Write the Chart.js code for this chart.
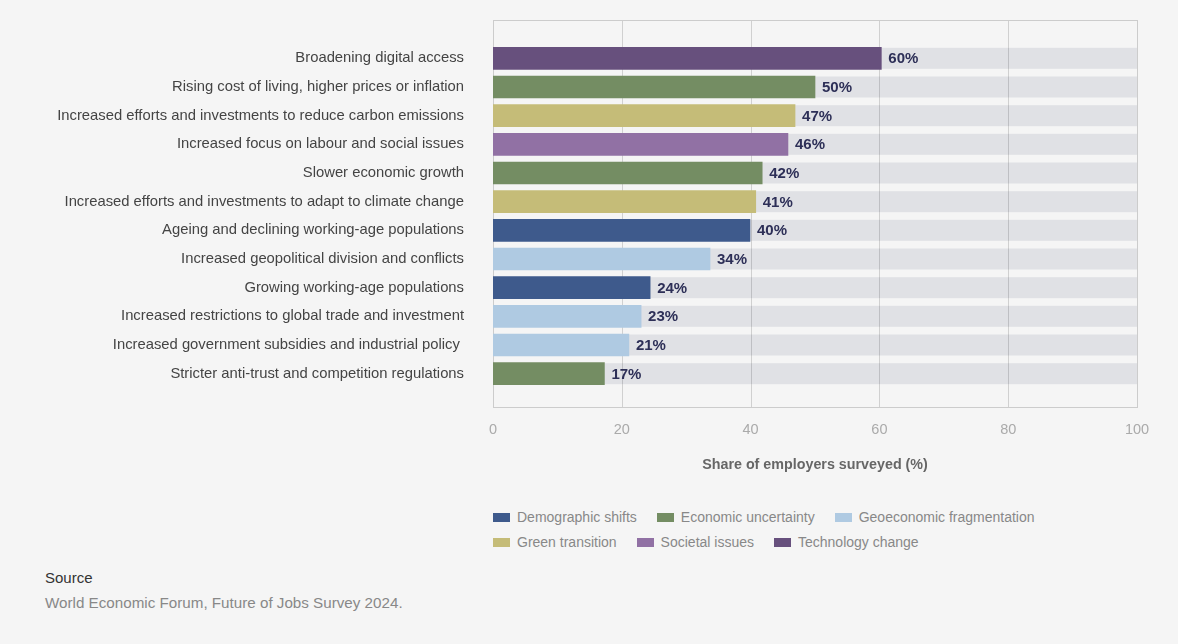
<!DOCTYPE html>
<html>
<head>
<meta charset="utf-8">
<script src="https://cdn.jsdelivr.net/npm/chart.js@4.4.1/dist/chart.umd.min.js"></script>
<style>
  html, body { margin: 0; padding: 0; background: #f5f5f5; }
  body { width: 1178px; height: 644px; position: relative; overflow: hidden; font-family: "Liberation Sans", Arial, sans-serif; }
  #wrap { position: absolute; left: 0; top: 0; width: 1178px; height: 490px; }
  #legend { position: absolute; left: 493px; top: 509px; width: 660px; font-size: 14px; color: #888; }
  .row { height: 25px; white-space: nowrap; }
  .item { display: inline-block; margin-right: 20px; }
  .sw { display: inline-block; width: 17px; height: 9px; margin-right: 7px; vertical-align: 0px; }
  #src { position: absolute; left: 45px; top: 569px; font-size: 15px; }
  #src .h { color: #333; margin-bottom: 8px; }
  #src .t { color: #888; font-size: 15.2px; }
</style>
</head>
<body>
<div id="wrap"><canvas id="myChart"></canvas></div>
<div id="legend"></div>
<div id="src"><div class="h">Source</div><div class="t">World Economic Forum, Future of Jobs Survey 2024.</div></div>
<script>
// categories, top to bottom
const categories = [
  'Broadening digital access',
  'Rising cost of living, higher prices or inflation',
  'Increased efforts and investments to reduce carbon emissions',
  'Increased focus on labour and social issues',
  'Slower economic growth',
  'Increased efforts and investments to adapt to climate change',
  'Ageing and declining working-age populations',
  'Increased geopolitical division and conflicts',
  'Growing working-age populations',
  'Increased restrictions to global trade and investment',
  'Increased government subsidies and industrial policy ',
  'Stricter anti-trust and competition regulations'
];
// share of employers (%)
const shares = [60.3, 50.0, 46.9, 45.8, 41.8, 40.8, 39.9, 33.7, 24.4, 23.0, 21.1, 17.3];
// group of each category
const groupOf = [
  'Technology change', 'Economic uncertainty', 'Green transition', 'Societal issues',
  'Economic uncertainty', 'Green transition', 'Demographic shifts', 'Geoeconomic fragmentation',
  'Demographic shifts', 'Geoeconomic fragmentation', 'Geoeconomic fragmentation', 'Economic uncertainty'
];
// legend order
const groups = ['Demographic shifts', 'Economic uncertainty', 'Geoeconomic fragmentation',
  'Green transition', 'Societal issues', 'Technology change'];
const groupColors = ['#3e5a8c', '#748d63', '#afcae2', '#c5bc78', '#9171a4', '#67507d'];
const xTicks = [0, 20, 40, 60, 80, 100];

const datasets = groups.map((g, gi) => ({
  label: g,
  data: shares.map((v, i) => groupOf[i] === g ? v : null),
  backgroundColor: groupColors[gi],
  barThickness: 22,
  grouped: false
}));

// gray track bars + grid + frame, drawn under the coloured bars
const backdrop = {
  id: 'backdrop',
  beforeDatasetsDraw(chart) {
    const { ctx, chartArea, scales: { x, y } } = chart;
    const top = chartArea.top - 24, bottom = chartArea.bottom + 19;
    ctx.save();
    ctx.fillStyle = '#e0e1e5';
    categories.forEach((c, i) => {
      const yc = y.getPixelForValue(i);
      ctx.fillRect(x.getPixelForValue(0), yc - 10.5, x.getPixelForValue(100) - x.getPixelForValue(0), 21);
    });
    ctx.strokeStyle = 'rgba(0,0,0,0.15)';
    ctx.lineWidth = 1;
    xTicks.forEach(t => {
      const px = Math.round(x.getPixelForValue(t)) + 0.5;
      ctx.beginPath();
      ctx.moveTo(px, top);
      ctx.lineTo(px, bottom);
      ctx.stroke();
    });
    ctx.strokeStyle = '#cccccc';
    ctx.strokeRect(Math.round(x.getPixelForValue(0)) + 0.5, top + 0.5,
      Math.round(x.getPixelForValue(100) - x.getPixelForValue(0)), bottom - top);
    ctx.restore();
  }
};

// percentage labels at bar ends
const valueLabels = {
  id: 'valueLabels',
  afterDatasetsDraw(chart) {
    const { ctx } = chart;
    ctx.save();
    ctx.font = 'bold 15px "Liberation Sans", Arial, sans-serif';
    ctx.fillStyle = '#2d2f57';
    ctx.textBaseline = 'middle';
    chart.data.datasets.forEach((ds, di) => {
      chart.getDatasetMeta(di).data.forEach((bar, i) => {
        if (ds.data[i] == null) return;
        ctx.fillText(Math.round(ds.data[i]) + '%', bar.x + 7, bar.y + 1);
      });
    });
    ctx.restore();
  }
};

const chart = new Chart(document.getElementById('myChart'), {
  type: 'bar',
  data: { labels: categories, datasets: datasets },
  options: {
    indexAxis: 'y',
    responsive: true,
    maintainAspectRatio: false,
    animation: false,
    layout: { padding: { top: 44, right: 41, bottom: 0, left: 0 } },
    plugins: { legend: { display: false }, tooltip: { enabled: false } },
    scales: {
      y: {
        grid: { display: false, drawTicks: false },
        border: { display: false },
        ticks: { color: '#444', padding: 29, font: { size: 14.8, family: '"Liberation Sans", Arial, sans-serif' } },
        afterFit(s) { s.width = 493; }
      },
      x: {
        min: 0, max: 100,
        grid: { display: false, drawTicks: false },
        border: { display: false },
        ticks: { stepSize: 20, color: '#aaaaaa', padding: 33, font: { size: 14.5, family: '"Liberation Sans", Arial, sans-serif' } },
        title: { display: true, text: 'Share of employers surveyed (%)', color: '#666', padding: { top: 0, bottom: 16 },
          font: { size: 14.3, weight: 'bold', family: '"Liberation Sans", Arial, sans-serif' } },
        afterFit(s) { s.height = 102; s.paddingLeft = 0; s.paddingRight = 0; }
      }
    }
  },
  plugins: [backdrop, valueLabels]
});

// html legend, two rows of three
const legendEl = document.getElementById('legend');
[[0, 1, 2], [3, 4, 5]].forEach(row => {
  const r = document.createElement('div');
  r.className = 'row';
  row.forEach(gi => {
    const it = document.createElement('span');
    it.className = 'item';
    it.innerHTML = '<span class="sw" style="background:' + groupColors[gi] + '"></span>' + groups[gi];
    r.appendChild(it);
  });
  legendEl.appendChild(r);
});
</script>
</body>
</html>
